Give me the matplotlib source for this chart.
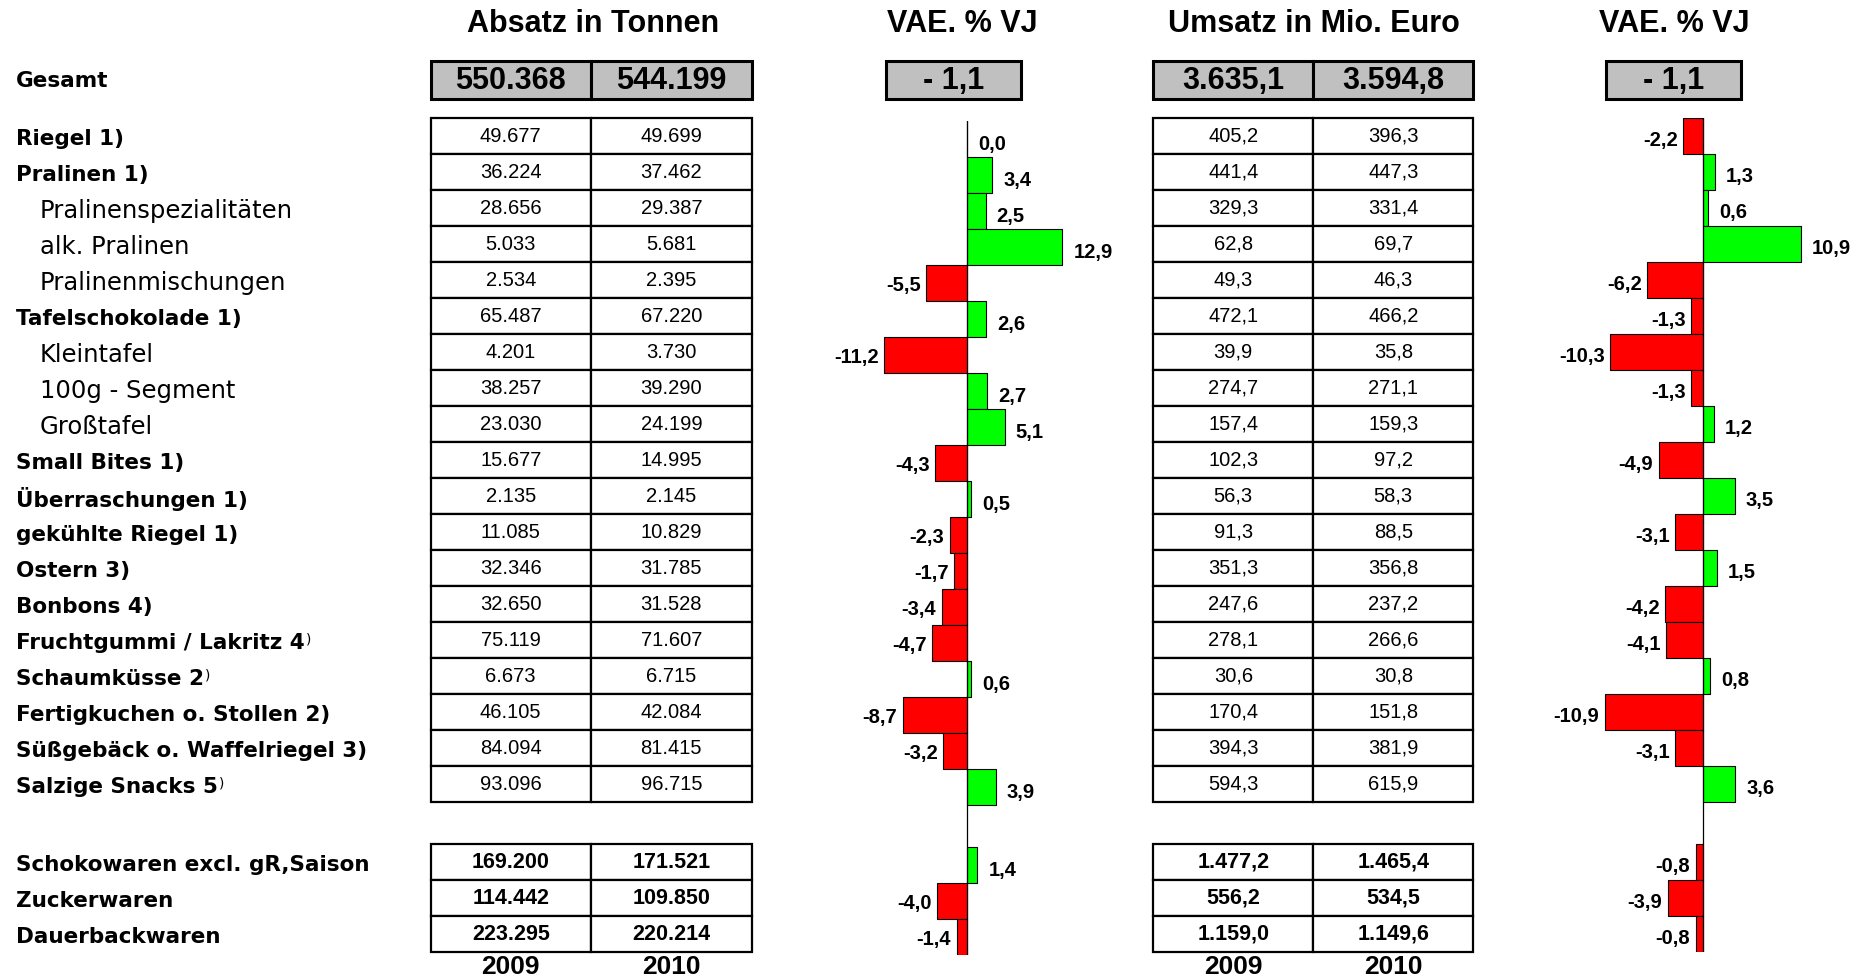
import matplotlib
matplotlib.use("Agg")
import matplotlib.pyplot as plt
from matplotlib.patches import Rectangle

# ---- data ----
row_labels = [
    "Riegel 1)", "Pralinen 1)", "Pralinenspezialitäten", "alk. Pralinen",
    "Pralinenmischungen", "Tafelschokolade 1)", "Kleintafel", "100g - Segment",
    "Großtafel", "Small Bites 1)", "Überraschungen 1)", "gekühlte Riegel 1)",
    "Ostern 3)", "Bonbons 4)", "Fruchtgummi / Lakritz 4)", "Schaumküsse 2)",
    "Fertigkuchen o. Stollen 2)", "Süßgebäck o. Waffelriegel 3)",
    "Salzige Snacks 5)",
]
sub_rows = ["Pralinenspezialitäten", "alk. Pralinen", "Pralinenmischungen",
            "Kleintafel", "100g - Segment", "Großtafel"]
sup_note_rows = ["Fruchtgummi / Lakritz 4)", "Schaumküsse 2)", "Salzige Snacks 5)"]

absatz_2009 = [49677, 36224, 28656, 5033, 2534, 65487, 4201, 38257, 23030, 15677,
               2135, 11085, 32346, 32650, 75119, 6673, 46105, 84094, 93096]
absatz_2010 = [49699, 37462, 29387, 5681, 2395, 67220, 3730, 39290, 24199, 14995,
               2145, 10829, 31785, 31528, 71607, 6715, 42084, 81415, 96715]
absatz_vae = [0.0, 3.4, 2.5, 12.9, -5.5, 2.6, -11.2, 2.7, 5.1, -4.3,
              0.5, -2.3, -1.7, -3.4, -4.7, 0.6, -8.7, -3.2, 3.9]

umsatz_2009 = [405.2, 441.4, 329.3, 62.8, 49.3, 472.1, 39.9, 274.7, 157.4, 102.3,
               56.3, 91.3, 351.3, 247.6, 278.1, 30.6, 170.4, 394.3, 594.3]
umsatz_2010 = [396.3, 447.3, 331.4, 69.7, 46.3, 466.2, 35.8, 271.1, 159.3, 97.2,
               58.3, 88.5, 356.8, 237.2, 266.6, 30.8, 151.8, 381.9, 615.9]
umsatz_vae = [-2.2, 1.3, 0.6, 10.9, -6.2, -1.3, -10.3, -1.3, 1.2, -4.9,
              3.5, -3.1, 1.5, -4.2, -4.1, 0.8, -10.9, -3.1, 3.6]

sum_labels = ["Schokowaren excl. gR,Saison", "Zuckerwaren", "Dauerbackwaren"]
sum_absatz_2009 = [169200, 114442, 223295]
sum_absatz_2010 = [171521, 109850, 220214]
sum_absatz_vae = [1.4, -4.0, -1.4]
sum_umsatz_2009 = [1477.2, 556.2, 1159.0]
sum_umsatz_2010 = [1465.4, 534.5, 1149.6]
sum_umsatz_vae = [-0.8, -3.9, -0.8]

gesamt_absatz = [550368, 544199]
gesamt_umsatz = [3635.1, 3594.8]
gesamt_vae = [-1.1, -1.1]
years = ["2009", "2010"]

# ---- layout (pixels) ----
W, H = 1861, 977
ROW_H = 36.0
TABLE_TOP = 118.3
GAP = 42.0
SUM_TOP = TABLE_TOP + len(row_labels) * ROW_H + GAP
ABSATZ_X = [430.7, 590.7, 752.0]
UMSATZ_X = [1153.3, 1313.3, 1473.3]
VAE1_BOX = [885.7, 1021.0]
VAE2_BOX = [1605.7, 1741.0]
NUM_FONT = "Liberation Sans"
LABEL_FONT = "DejaVu Sans"
GREEN = "#00ff00"
RED = "#ff0000"
GREY = "#c0c0c0"


def fmt_int(v):
    return f"{v:,}".replace(",", ".")


def fmt_dec(v):
    return f"{v:,.1f}".replace(",", "X").replace(".", ",").replace("X", ".")


def fmt_pct(v):
    return f"{v:.1f}".replace(".", ",")


def draw_table(ax, xs, top, cols, fmt, bold=False):
    for c, values in enumerate(cols):
        x0, x1 = xs[c], xs[c + 1]
        for i, v in enumerate(values):
            y0 = top + i * ROW_H
            ax.add_patch(Rectangle((x0, y0), x1 - x0, ROW_H, facecolor="white",
                                   edgecolor="black", lw=1.6))
            ax.text((x0 + x1) / 2, y0 + ROW_H / 2, fmt(v), ha="center", va="center",
                    fontsize=15.5 if bold else 14.5, family=NUM_FONT,
                    fontweight="bold" if bold else "normal")


def draw_grey_box(ax, xs, texts):
    for c, t in enumerate(texts):
        x0, x1 = xs[c], xs[c + 1]
        ax.add_patch(Rectangle((x0, 61), x1 - x0, 38.3, facecolor=GREY,
                               edgecolor="black", lw=2.2))
        ax.text((x0 + x1) / 2, 81, t, ha="center", va="center", fontsize=22,
                family=NUM_FONT, fontweight="bold")


def bar_chart(fig, zero_x, scale, xmin, xmax, y_shift, main_vals, sum_vals,
              pos_dy, neg_dy):
    n_main = len(main_vals)
    gap_rows = GAP / ROW_H
    total = n_main + gap_rows + len(sum_vals)
    x0 = zero_x + xmin * scale
    x1 = zero_x + xmax * scale
    y0 = TABLE_TOP + y_shift
    y1 = y0 + total * ROW_H
    bax = fig.add_axes([x0 / W, 1 - y1 / H, (x1 - x0) / W, (y1 - y0) / H])
    bax.set_xlim(xmin, xmax)
    bax.set_ylim(total, 0)
    bax.axis("off")
    ypos = [i + 0.5 for i in range(n_main)] + \
           [n_main + gap_rows + j + 0.5 for j in range(len(sum_vals))]
    vals = list(main_vals) + list(sum_vals)
    colors = [GREEN if v >= 0 else RED for v in vals]
    bax.barh(ypos, vals, height=1.0, color=colors, edgecolor="black", lw=0.8)
    bax.axvline(0, color="black", lw=0.9)
    for y, v in zip(ypos, vals):
        if v >= 0:
            bax.annotate(fmt_pct(v), (v, y), xytext=(8, -pos_dy),
                         textcoords="offset points", ha="left", va="center",
                         fontsize=14.5, family=NUM_FONT, fontweight="bold")
        else:
            bax.annotate(fmt_pct(v), (v, y), xytext=(-4, -neg_dy),
                         textcoords="offset points", ha="right", va="center",
                         fontsize=14.5, family=NUM_FONT, fontweight="bold")
    return bax


fig = plt.figure(figsize=(W / 100, H / 100), dpi=100)
ax = fig.add_axes([0, 0, 1, 1])
ax.set_xlim(0, W)
ax.set_ylim(H, 0)
ax.axis("off")

# titles
for x, t in [(593, "Absatz in Tonnen"), (962, "VAE. % VJ"),
             (1314, "Umsatz in Mio. Euro"), (1674, "VAE. % VJ")]:
    ax.text(x, 24, t, ha="center", va="center", fontsize=22,
            family=NUM_FONT, fontweight="bold")

# Gesamt row
ax.text(16, 81, "Gesamt", ha="left", va="center", fontsize=15.5,
        family=LABEL_FONT, fontweight="bold")
draw_grey_box(ax, ABSATZ_X, [fmt_int(v) for v in gesamt_absatz])
draw_grey_box(ax, UMSATZ_X, [fmt_dec(v) for v in gesamt_umsatz])
draw_grey_box(ax, VAE1_BOX, ["- " + fmt_pct(abs(gesamt_vae[0]))])
draw_grey_box(ax, VAE2_BOX, ["- " + fmt_pct(abs(gesamt_vae[1]))])

# row labels
for i, lab in enumerate(row_labels):
    yc = TABLE_TOP + (i + 0.5) * ROW_H + 2.5
    if lab in sub_rows:
        ax.text(40, yc, lab, ha="left", va="center", fontsize=17.5,
                family=LABEL_FONT)
    elif lab in sup_note_rows:
        t = ax.text(16, yc, lab[:-1], ha="left", va="center", fontsize=15.5,
                    family=LABEL_FONT, fontweight="bold")
        ax.annotate(")", xy=(1.0, 1.0), xycoords=t, xytext=(1, 0),
                    textcoords="offset points", ha="left", va="top",
                    fontsize=10, family=LABEL_FONT)
    else:
        ax.text(16, yc, lab, ha="left", va="center", fontsize=15.5,
                family=LABEL_FONT, fontweight="bold")

for j, lab in enumerate(sum_labels):
    yc = SUM_TOP + (j + 0.5) * ROW_H + 2.5
    ax.text(16, yc, lab, ha="left", va="center", fontsize=15.5,
            family=LABEL_FONT, fontweight="bold")

# tables
draw_table(ax, ABSATZ_X, TABLE_TOP, [absatz_2009, absatz_2010], fmt_int)
draw_table(ax, UMSATZ_X, TABLE_TOP, [umsatz_2009, umsatz_2010], fmt_dec)
draw_table(ax, ABSATZ_X, SUM_TOP, [sum_absatz_2009, sum_absatz_2010], fmt_int, bold=True)
draw_table(ax, UMSATZ_X, SUM_TOP, [sum_umsatz_2009, sum_umsatz_2010], fmt_dec, bold=True)

# years under the tables
year_y = SUM_TOP + len(sum_labels) * ROW_H + 15
for xs in (ABSATZ_X, UMSATZ_X):
    for c, yr in enumerate(years):
        ax.text((xs[c] + xs[c + 1]) / 2, year_y, yr, ha="center", va="center",
                fontsize=19, family=NUM_FONT, fontweight="bold")

# change bars
bar_chart(fig, 967.0, 7.4, -12.5, 14.0, 2.7, absatz_vae, sum_absatz_vae, 4.0, 1.5)
bar_chart(fig, 1703.0, 9.0, -12.0, 12.0, 0.0, umsatz_vae, sum_umsatz_vae, 3.0, 3.0)

fig.savefig("out.png", dpi=100, facecolor="white")
